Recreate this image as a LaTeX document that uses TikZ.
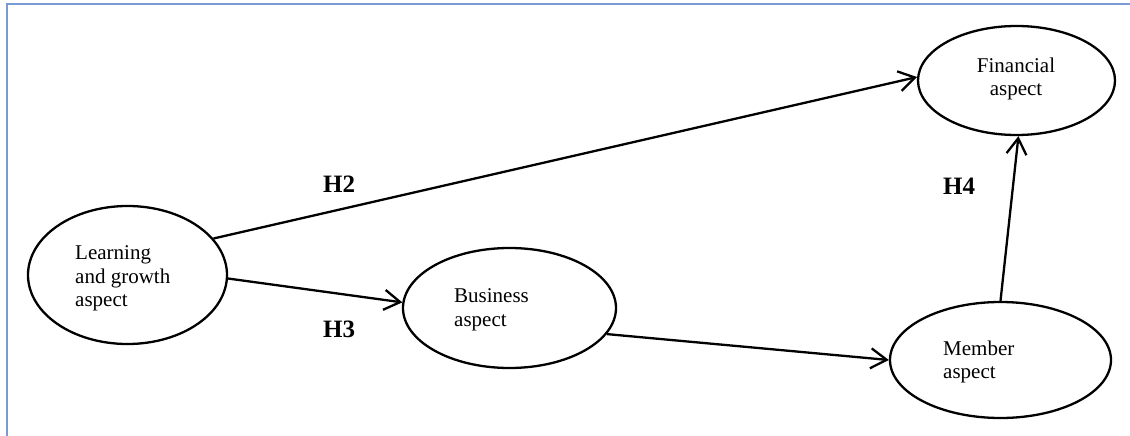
\documentclass[tikz,border=0pt]{standalone}
\usepackage{fontspec}
\setmainfont{Liberation Serif}
\usetikzlibrary{shapes.geometric,arrows.meta}
\definecolor{framecol}{RGB}{121,155,212}
\tikzset{
  aspectbox/.style={draw, ellipse, line width=2.3pt, inner sep=0pt},
  aspecttext/.style={inner sep=0pt, font=\fontsize{21}{23.5}\selectfont},
  hyplabel/.style={inner sep=0pt, anchor=base west, font=\fontsize{25}{28}\selectfont\bfseries},
  link/.style={line width=2.3pt, -{Straight Barb[length=16pt,width=20pt,line width=2.3pt]}}
}
\begin{document}
\begin{tikzpicture}[x=1pt,y=-1pt]
\useasboundingbox (0,0) rectangle (1130,436);
\draw[framecol, line width=2.5pt] (7,436) -- (7,4) -- (1130,4);

\node[aspectbox, minimum width=199pt, minimum height=138pt] (lrn) at (127.5,275) {};
\node[aspectbox, minimum width=213pt, minimum height=120pt] (bus) at (509.5,308) {};
\node[aspectbox, minimum width=197pt, minimum height=109pt] (fin) at (1016.5,80.5) {};
\node[aspectbox, minimum width=221pt, minimum height=116pt] (mem) at (1000.5,360) {};

\node[aspecttext, align=left, anchor=north west] (lrntext) at (75,245.5) {Learning\\and growth\\aspect};
\node[aspecttext, align=left, anchor=north west] (bustext) at (454,288.5) {Business\\aspect};
\node[aspecttext, align=center, anchor=north] (fintext) at (1016,57.5) {Financial\\aspect};
\node[aspecttext, align=left, anchor=north west] (memtext) at (943,340.5) {Member\\aspect};

\draw[link] (lrn.23) -- (fin.178);
\draw[link] (lrn.-2) -- (bus.177);
\draw[link] (bus.-15) -- (mem.180);
\draw[link] (mem.90) -- (fin.-88);

\node[hyplabel] (h2) at (323,192) {H2};
\node[hyplabel] (h3) at (323,337) {H3};
\node[hyplabel] (h4) at (943,194) {H4};
\end{tikzpicture}
\end{document}
